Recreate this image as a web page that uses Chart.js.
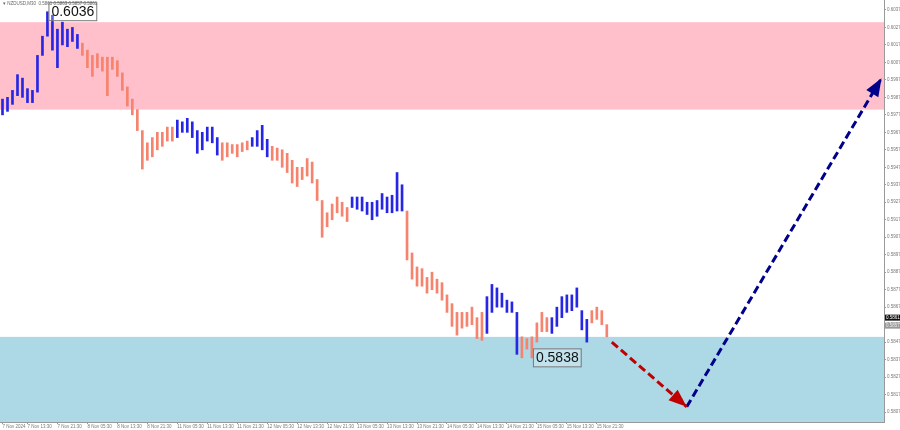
<!DOCTYPE html>
<html>
<head>
<meta charset="utf-8">
<script src="https://cdn.jsdelivr.net/npm/chart.js@4"></script>
<style>
html, body { margin: 0; padding: 0; background: #fff; }
#wrap { width: 900px; height: 430px; position: relative; }
</style>
</head>
<body>
<div id="wrap"><canvas id="chart"></canvas></div>
<script>
// Données (NZDUSD M30, plus haut / plus bas par créneau)
const highs = [0.5986, 0.5987, 0.5991, 0.6000, 0.5998, 0.5992, 0.5991, 0.6011, 0.6022, 0.6036,
  0.6034, 0.6026, 0.6030, 0.6026, 0.6027, 0.6023, 0.6018, 0.6014, 0.6011, 0.6012,
  0.6010, 0.6010, 0.6010, 0.6008, 0.6001, 0.5993, 0.5986, 0.5980, 0.5968, 0.5961,
  0.5964, 0.5967, 0.5967, 0.5970, 0.5970, 0.5974, 0.5973, 0.5975, 0.5973, 0.5968,
  0.5967, 0.5970, 0.5970, 0.5964, 0.5961, 0.5961, 0.5960, 0.5960, 0.5961, 0.5962,
  0.5964, 0.5968, 0.5971, 0.5963, 0.5959, 0.5958, 0.5957, 0.5955, 0.5951, 0.5947,
  0.5947, 0.5952, 0.5950, 0.5940, 0.5928, 0.5921, 0.5926, 0.5930, 0.5927, 0.5924,
  0.5930, 0.5930, 0.5930, 0.5927, 0.5927, 0.5928, 0.5932, 0.5930, 0.5931, 0.5944,
  0.5937, 0.5922, 0.5898, 0.5890, 0.5889, 0.5884, 0.5887, 0.5883, 0.5881, 0.5874,
  0.5869, 0.5864, 0.5864, 0.5864, 0.5867, 0.5861, 0.5864, 0.5873, 0.5880, 0.5878,
  0.5875, 0.5871, 0.5870, 0.5864, 0.5850, 0.5849, 0.5850, 0.5858, 0.5864, 0.5861,
  0.5861, 0.5867, 0.5873, 0.5874, 0.5874, 0.5878, 0.5865, 0.5860, 0.5865, 0.5867,
  0.5865, 0.5857];
const lows = [0.5977, 0.5979, 0.5983, 0.5988, 0.5987, 0.5984, 0.5984, 0.5990, 0.6011, 0.6022,
  0.6014, 0.6004, 0.6017, 0.6016, 0.6019, 0.6015, 0.6011, 0.6004, 0.5999, 0.6004,
  0.6002, 0.5988, 0.6003, 0.5999, 0.5991, 0.5982, 0.5977, 0.5968, 0.5946, 0.5951,
  0.5953, 0.5957, 0.5959, 0.5962, 0.5962, 0.5964, 0.5967, 0.5967, 0.5964, 0.5955,
  0.5957, 0.5962, 0.5961, 0.5954, 0.5951, 0.5953, 0.5955, 0.5953, 0.5956, 0.5957,
  0.5959, 0.5959, 0.5957, 0.5953, 0.5951, 0.5951, 0.5947, 0.5944, 0.5938, 0.5936,
  0.5940, 0.5942, 0.5938, 0.5928, 0.5907, 0.5913, 0.5917, 0.5921, 0.5919, 0.5916,
  0.5924, 0.5923, 0.5922, 0.5920, 0.5917, 0.5919, 0.5923, 0.5921, 0.5921, 0.5922,
  0.5922, 0.5894, 0.5883, 0.5879, 0.5879, 0.5875, 0.5877, 0.5875, 0.5871, 0.5864,
  0.5856, 0.5851, 0.5855, 0.5856, 0.5857, 0.5849, 0.5848, 0.5852, 0.5864, 0.5867,
  0.5867, 0.5864, 0.5864, 0.5840, 0.5838, 0.5843, 0.5838, 0.5847, 0.5853, 0.5853,
  0.5852, 0.5856, 0.5861, 0.5864, 0.5865, 0.5867, 0.5854, 0.5847, 0.5858, 0.5860,
  0.5857, 0.5850];
// fin de chaque vague (bleu, saumon, bleu, ...)
const waveEnds = [15, 34, 43, 49, 53, 69, 80, 96, 103, 109, 117, 121];
const slotCount = 177;
const xLabels = ['7 Nov 2024', '7 Nov 13:30', '7 Nov 21:30', '8 Nov 05:30', '8 Nov 13:30', '8 Nov 21:30',
  '11 Nov 05:30', '11 Nov 13:30', '11 Nov 21:30', '12 Nov 05:30', '12 Nov 13:30', '12 Nov 21:30',
  '13 Nov 05:30', '13 Nov 13:30', '13 Nov 21:30', '14 Nov 05:30', '14 Nov 13:30', '14 Nov 21:30',
  '15 Nov 05:30', '15 Nov 13:30', '15 Nov 21:30'];
const xLabelSlots = [0, 5, 11, 17, 23, 29, 35, 41, 47, 53, 59, 65, 71, 77, 83, 89, 95, 101, 107, 113, 119];
const yTicks = [0.6037, 0.6027, 0.6017, 0.6007, 0.5997, 0.5987, 0.5977, 0.5967, 0.5957, 0.5947, 0.5937, 0.5927,
  0.5917, 0.5907, 0.5897, 0.5887, 0.5877, 0.5867, 0.5857, 0.5847, 0.5837, 0.5827, 0.5817, 0.5807];
const yMin = 0.58013, yMax = 0.60427;
const pinkZone = [0.5980, 0.6030];
const blueZone = [0.5790, 0.5850];
const redArrowSlots = [122, 137], redArrowPrices = [0.5847, 0.5810];
const blueArrowSlots = [137, 176], blueArrowPrices = [0.5810, 0.5998];
const markSlots = [9, 106], markPrices = [0.6036, 0.5838];
const bidPrice = 0.5861, lastPrice = 0.5857;
const titleText = '\u25BE NZDUSD,M30  0.5861 0.5863 0.5857 0.5861';

// Construction
const labels = Array.from({ length: slotCount }, (_, i) => { const k = xLabelSlots.indexOf(i); return k >= 0 ? xLabels[k] : ''; });
const colors = highs.map((_, i) => waveEnds.findIndex(e => i <= e) % 2 === 0 ? '#2626e4' : '#f6836d');
const bars = highs.map((h, i) => [lows[i], h]);
function arrowData(slots, prices) { const d = new Array(slotCount).fill(null); slots.forEach((s, i) => d[s] = prices[i]); return d; }
const axisFont = { family: '"Liberation Sans", Arial', size: 4.5 };

// Zones
const zones = {
  id: 'zones',
  beforeDatasetsDraw(c) {
    const { ctx, chartArea: a, scales: { y } } = c;
    ctx.save();
    ctx.fillStyle = '#ffc0cb';
    let t = y.getPixelForValue(pinkZone[1]), b = y.getPixelForValue(pinkZone[0]);
    ctx.fillRect(a.left, t, a.width, b - t);
    ctx.fillStyle = '#add8e6';
    t = y.getPixelForValue(blueZone[1]); b = Math.min(a.bottom, y.getPixelForValue(blueZone[0]));
    ctx.fillRect(a.left, t, a.width, b - t);
    ctx.restore();
  }
};

// Flèches, étiquettes, titre
function head(ctx, p0, p1, color) {
  const ang = Math.atan2(p1.y - p0.y, p1.x - p0.x), L = 18, W = 7;
  const bx = p1.x - L * Math.cos(ang), by = p1.y - L * Math.sin(ang);
  ctx.fillStyle = color;
  ctx.beginPath();
  ctx.moveTo(p1.x, p1.y);
  ctx.lineTo(bx + W * Math.sin(ang), by - W * Math.cos(ang));
  ctx.lineTo(bx - W * Math.sin(ang), by + W * Math.cos(ang));
  ctx.closePath(); ctx.fill();
}
const marks = {
  id: 'marks',
  afterDatasetsDraw(c) {
    const { ctx, scales: { x, y } } = c;
    ctx.save();
    const r = c.getDatasetMeta(1).data, b = c.getDatasetMeta(2).data;
    head(ctx, r[redArrowSlots[0]], r[redArrowSlots[1]], '#c00000');
    head(ctx, b[blueArrowSlots[0]], b[blueArrowSlots[1]], '#00008b');
    ctx.font = '14px "Liberation Sans", Arial';
    ctx.textBaseline = 'middle';
    markSlots.forEach((s, i) => {
      const px = x.getPixelForValue(s) + 1, py = y.getPixelForValue(markPrices[i]);
      const txt = markPrices[i].toFixed(4), w = ctx.measureText(txt).width + 5;
      ctx.fillStyle = 'rgba(255,255,255,0.25)';
      ctx.fillRect(px, py - 9.5, w, 19);
      ctx.strokeStyle = '#777'; ctx.lineWidth = 1;
      ctx.strokeRect(px + 0.5, py - 9, w, 18);
      ctx.fillStyle = '#111';
      ctx.fillText(txt, px + 3, py + 0.5);
    });
    ctx.font = '4.5px "Liberation Sans", Arial';
    ctx.fillStyle = '#666';
    ctx.fillText(titleText, 3, 4);
    ctx.restore();
  },
  afterDraw(c) {
    const { ctx, chartArea: a, scales: { y } } = c;
    ctx.save();
    ctx.font = '4.5px "Liberation Sans", Arial';
    ctx.textBaseline = 'middle';
    [[bidPrice, '#111', '#fff'], [lastPrice, '#999', '#eee']].forEach(([v, bg, fg], i) => {
      const py = y.getPixelForValue(v) + i;
      ctx.fillStyle = bg; ctx.fillRect(a.right + 1, py - 3, 15, 6);
      ctx.fillStyle = fg; ctx.fillText(v.toFixed(4), a.right + 2, py);
    });
    ctx.restore();
  }
};

new Chart(document.getElementById('chart'), {
  type: 'bar',
  data: {
    labels: labels,
    datasets: [
      { type: 'bar', data: bars, backgroundColor: colors, barThickness: 2, borderWidth: 0, borderSkipped: false, order: 3 },
      { type: 'line', data: arrowData(redArrowSlots, redArrowPrices), borderColor: '#c00000', borderWidth: 3, borderDash: [8, 4], pointRadius: 0, spanGaps: true, order: 1 },
      { type: 'line', data: arrowData(blueArrowSlots, blueArrowPrices), borderColor: '#00008b', borderWidth: 3, borderDash: [8, 4], pointRadius: 0, spanGaps: true, order: 2 }
    ]
  },
  options: {
    responsive: true, maintainAspectRatio: false, animation: false,
    layout: { padding: 0 },
    plugins: { legend: { display: false }, tooltip: { enabled: false } },
    scales: {
      x: {
        offset: true,
        grid: { drawOnChartArea: false, offset: false, tickLength: 2, color: ctx => labels[ctx.index] ? '#999' : 'rgba(0,0,0,0)' },
        border: { color: '#999' },
        ticks: { autoSkip: false, maxRotation: 0, minRotation: 0, align: 'start', padding: 0, font: axisFont, color: '#777' },
        afterFit: s => { s.height = 8; s.paddingLeft = 0; s.paddingRight = 0; }
      },
      y: {
        position: 'right', min: yMin, max: yMax,
        afterBuildTicks: s => { s.ticks = yTicks.map(v => ({ value: v })); },
        grid: { drawOnChartArea: false, tickLength: 2, color: '#999' },
        border: { color: '#999' },
        ticks: { padding: 1, font: axisFont, color: '#777', callback: v => v.toFixed(4) },
        afterFit: s => { s.width = 16; s.paddingTop = 0; s.paddingBottom = 0; }
      }
    }
  },
  plugins: [zones, marks]
});
</script>
</body>
</html>
